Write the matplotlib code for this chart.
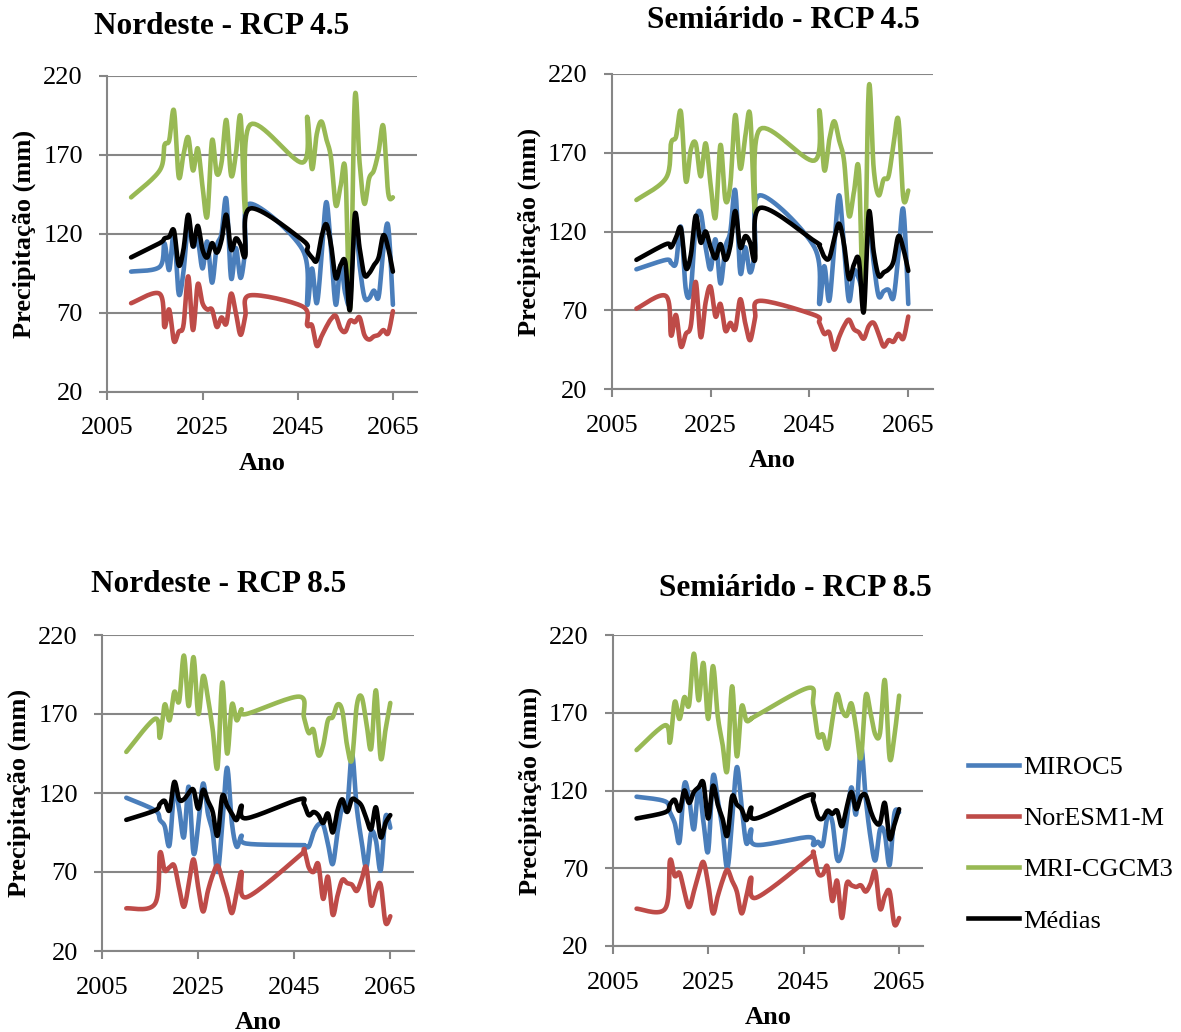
import numpy as np
import matplotlib
matplotlib.use("Agg")
import matplotlib.pyplot as plt
from matplotlib.lines import Line2D

plt.rcParams["font.family"] = ["Liberation Serif", "DejaVu Serif"]

# anos com dados (mesmos para os 4 painéis)
anos = [2010] + list(range(2016, 2036)) + list(range(2046, 2066))

# --- Nordeste - RCP 4.5 ---
ne45_miroc = [96, 99, 114, 97, 120, 82, 96, 126, 112, 116, 98, 115, 89, 112, 120, 142, 92, 111, 92, 110, 139,
              110, 75, 98, 76, 105, 140, 110, 75, 100, 82, 78, 127, 100, 80, 79, 84, 80, 110, 125, 75]
ne45_nor = [76, 82, 61, 72, 52, 58, 62, 93, 59, 88, 76, 72, 72, 61, 67, 63, 82, 70, 56, 68, 81,
            74, 62, 62, 49, 55, 61, 66, 68, 60, 58, 65, 64, 67, 56, 53, 55, 56, 59, 57, 71]
ne45_mri = [143, 160, 176, 179, 198, 156, 170, 181, 160, 174, 150, 131, 179, 158, 165, 192, 157, 170, 194, 133, 189,
            165, 194, 161, 183, 191, 180, 168, 138, 150, 160, 72, 206, 165, 139, 155, 160, 172, 188, 146, 143]
ne45_med = [105, 114, 117, 118, 122, 100, 110, 132, 112, 125, 110, 105, 114, 108, 116, 132, 110, 117, 113, 106, 136,
            116, 109, 105, 103, 118, 126, 113, 92, 100, 102, 72, 132, 111, 94, 95, 100, 105, 119, 111, 96]

# --- Semiárido - RCP 4.5 ---
sa45_miroc = [96, 102, 100, 100, 123, 83, 83, 125, 132, 110, 96, 115, 87, 110, 120, 146, 94, 110, 94, 108, 143,
              110, 74, 98, 76, 110, 143, 110, 76, 95, 90, 85, 125, 100, 79, 82, 83, 78, 105, 134, 74]
sa45_nor = [71, 79, 54, 67, 47, 55, 60, 88, 53, 75, 85, 66, 74, 57, 62, 58, 77, 62, 51, 65, 76,
            67, 62, 55, 56, 45, 53, 60, 64, 58, 56, 52, 60, 62, 55, 47, 51, 50, 55, 52, 66]
sa45_mri = [140, 154, 176, 180, 196, 152, 172, 176, 155, 176, 150, 129, 175, 140, 150, 194, 160, 180, 194, 132, 185,
            165, 197, 159, 178, 190, 178, 165, 130, 145, 159, 70, 211, 160, 143, 153, 155, 175, 191, 141, 146]
sa45_med = [102, 112, 110, 116, 122, 97, 105, 130, 113, 120, 110, 103, 112, 102, 111, 133, 110, 117, 113, 102, 135,
            114, 111, 104, 103, 115, 125, 112, 90, 99, 102, 69, 132, 107, 92, 94, 96, 101, 117, 109, 95]

# --- Nordeste - RCP 8.5 ---
ne85_miroc = [117, 109, 103, 99, 87, 122, 110, 92, 124, 82, 100, 126, 107, 95, 70, 100, 136, 101, 86, 93, 88,
              87, 87, 86, 95, 100, 100, 88, 75, 95, 112, 110, 145, 111, 90, 73, 95, 90, 71, 105, 98]
ne85_nor = [47, 50, 82, 71, 73, 74, 60, 48, 62, 78, 60, 45, 58, 68, 74, 65, 55, 44, 57, 70, 54,
            80, 84, 73, 70, 75, 53, 67, 43, 55, 65, 63, 62, 58, 65, 73, 49, 58, 62, 38, 42]
ne85_mri = [146, 167, 155, 176, 166, 184, 178, 207, 175, 206, 170, 194, 180, 160, 136, 190, 145, 176, 166, 173, 170,
            181, 168, 158, 160, 144, 150, 166, 168, 176, 172, 150, 141, 175, 181, 165, 148, 185, 142, 160, 177]
ne85_med = [103, 109, 113, 115, 109, 127, 116, 116, 120, 122, 110, 122, 115, 108, 93, 118, 112, 107, 103, 112, 104,
            116, 113, 106, 108, 106, 101, 107, 95, 109, 116, 108, 116, 115, 112, 104, 97, 111, 92, 101, 106]

# --- Semiárido - RCP 8.5 ---
sa85_miroc = [116, 113, 106, 99, 87, 124, 115, 95, 122, 100, 81, 129, 114, 95, 70, 100, 135, 110, 86, 95, 85,
              90, 85, 87, 85, 103, 100, 76, 80, 100, 122, 105, 148, 115, 90, 75, 95, 92, 72, 105, 106]
sa85_nor = [44, 44, 75, 65, 67, 55, 45, 55, 66, 74, 60, 41, 52, 62, 69, 62, 55, 41, 52, 64, 51,
            76, 80, 67, 66, 71, 49, 62, 38, 60, 59, 58, 59, 55, 60, 68, 44, 52, 55, 34, 38]
sa85_mri = [146, 162, 151, 177, 166, 180, 175, 208, 178, 202, 166, 200, 168, 150, 133, 187, 142, 174, 165, 166, 168,
            186, 175, 155, 156, 147, 165, 182, 172, 168, 176, 160, 141, 181, 170, 156, 157, 191, 141, 155, 181]
sa85_med = [102, 106, 111, 114, 107, 120, 112, 119, 122, 125, 102, 123, 111, 102, 91, 116, 111, 108, 101, 109, 102,
            117, 113, 103, 102, 107, 105, 107, 97, 109, 119, 108, 116, 117, 107, 100, 99, 112, 89, 98, 108]

paineis = [
    ("Nordeste - RCP 4.5", [ne45_miroc, ne45_nor, ne45_mri, ne45_med]),
    ("Semiárido - RCP 4.5", [sa45_miroc, sa45_nor, sa45_mri, sa45_med]),
    ("Nordeste - RCP 8.5", [ne85_miroc, ne85_nor, ne85_mri, ne85_med]),
    ("Semiárido - RCP 8.5", [sa85_miroc, sa85_nor, sa85_mri, sa85_med]),
]
nomes = ["MIROC5", "NorESM1-M", "MRI-CGCM3", "Médias"]
cores = ["#4A7EBB", "#BE4B48", "#98B954", "#000000"]

W, H = 1181, 1032
# caixas dos eixos em pixels: esquerda, direita, topo, base
caixas = [
    (107.3, 416.7, 75.7, 391.7),
    (611.7, 933.0, 74.0, 389.0),
    (102.3, 414.3, 635.0, 951.0),
    (612.7, 923.0, 635.0, 946.0),
]
titulo_pos = [(222, 26), (783, 21), (219, 584), (795, 589)]
cinza = "#868686"


def suavizar(x, y, n=16):
    # curva suavizada estilo Excel (Bezier com tangentes Catmull-Rom)
    x = np.asarray(x, float)
    y = np.asarray(y, float)
    px = np.concatenate([[x[0]], x, [x[-1]]])
    py = np.concatenate([[y[0]], y, [y[-1]]])
    t = np.linspace(0, 1, n, endpoint=False)[:, None]
    xs, ys = [], []
    for i in range(1, len(px) - 2):
        p0 = np.array([px[i], py[i]])
        p3 = np.array([px[i + 1], py[i + 1]])
        p1 = p0 + (p3 - np.array([px[i - 1], py[i - 1]])) / 6
        p2 = p3 - (np.array([px[i + 2], py[i + 2]]) - p0) / 6
        b = ((1 - t) ** 3) * p0 + 3 * ((1 - t) ** 2) * t * p1 + 3 * (1 - t) * t ** 2 * p2 + t ** 3 * p3
        xs.append(b[:, 0])
        ys.append(b[:, 1])
    xs.append([x[-1]])
    ys.append([y[-1]])
    return np.concatenate(xs), np.concatenate(ys)


fig = plt.figure(figsize=(W / 100, H / 100), dpi=100)

for (titulo, series), (l, r, t, b), (tx, ty) in zip(paineis, caixas, titulo_pos):
    ax = fig.add_axes([l / W, 1 - b / H, (r - l) / W, (b - t) / H])
    for s, c in zip(series, cores):
        xs, ys = suavizar(anos, s)
        ax.plot(xs, ys, color=c, lw=3.3, solid_capstyle="round", solid_joinstyle="round")
    ax.set_xlim(2005, 2070)
    ax.set_ylim(20, 220)
    ax.set_xticks([2005, 2025, 2045, 2065])
    ax.set_yticks([20, 70, 120, 170, 220])
    ax.grid(axis="y", color=cinza, lw=1.5)
    ax.set_axisbelow(True)
    for lado in ["top", "right"]:
        ax.spines[lado].set_visible(False)
    for lado in ["left", "bottom"]:
        ax.spines[lado].set_color(cinza)
        ax.spines[lado].set_linewidth(1.5)
    ax.tick_params(axis="both", colors=cinza, labelcolor="black", labelsize=19,
                   length=5.5, width=1.5, direction="out")
    ax.tick_params(axis="y", pad=12)
    ax.tick_params(axis="x", pad=13)
    ax.set_xlabel("Ano", fontsize=19, fontweight="bold", labelpad=9)
    ax.set_ylabel("Precipitação (mm)", fontsize=19, fontweight="bold", labelpad=5)
    fig.text(tx / W, 1 - ty / H, titulo, fontsize=22.5, fontweight="bold", ha="center", va="center")

handles = [Line2D([], [], color=c, lw=3.3) for c in cores]
fig.legend(handles, nomes, loc="center left", bbox_to_anchor=(968 / W, 1 - 844 / H),
           frameon=False, fontsize=19, handlelength=1.95, handletextpad=0.15, labelspacing=1.05,
           borderaxespad=0, borderpad=0)

fig.savefig("out.png", dpi=100)
